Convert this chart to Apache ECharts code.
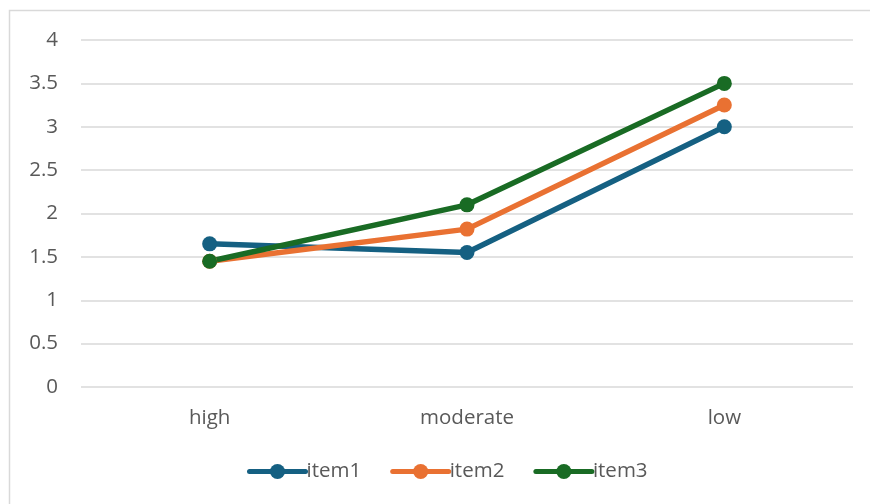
<!DOCTYPE html>
<html><head><meta charset="utf-8">
<script src="https://cdn.jsdelivr.net/npm/echarts@6/dist/echarts.min.js"></script>
<style>html,body{margin:0;padding:0;background:#fff}#c{width:870px;height:504px}</style>
</head><body><div id="c"></div>
<script>
const categories = ['high', 'moderate', 'low'];
const item1 = [1.65, 1.55, 3.0];
const item2 = [1.45, 1.82, 3.25];
const item3 = [1.45, 2.1, 3.5];
const seriesNames = ['item1', 'item2', 'item3'];
const colors = ['#156082', '#E97132', '#196B24'];

const chart = echarts.init(document.getElementById('c'), null, {renderer: 'canvas'});
const font = '"Open Sans", sans-serif';
const mk = (name, data, color) => ({
  name, type: 'line', data, color,
  symbol: 'circle', symbolSize: 15,
  lineStyle: {width: 5.5, color, cap: 'round'},
  itemStyle: {color},
  emphasis: {disabled: true}, animation: false
});
chart.setOption({
  animation: false,
  graphic: [{type: 'rect', shape: {x: 9.5, y: 10.5, width: 880, height: 520}, style: {fill: 'none', stroke: '#d9d9d9', lineWidth: 1.5}, silent: true}],
  grid: {left: 81, right: 17, top: 40, bottom: 117},
  xAxis: {
    type: 'category', data: categories, boundaryGap: true,
    axisLine: {show: false}, axisTick: {show: false},
    axisLabel: {color: '#595959', fontSize: 20.5, fontFamily: font, margin: 21}
  },
  yAxis: {
    type: 'value', min: 0, max: 4, interval: 0.5,
    axisLine: {show: false}, axisTick: {show: false},
    splitLine: {lineStyle: {color: '#d9d9d9', width: 1.5}},
    axisLabel: {color: '#595959', fontSize: 20.5, fontFamily: font, margin: 23}
  },
  legend: {
    bottom: 17, left: 242, itemWidth: 56, itemHeight: 19, itemGap: 29,
    lineStyle: {width: 5, cap: 'round'},
    textStyle: {color: '#595959', fontSize: 20.5, fontFamily: font, padding: [0,0,0,-4]},
    data: seriesNames
  },
  series: [mk(seriesNames[0], item1, colors[0]), mk(seriesNames[1], item2, colors[1]), mk(seriesNames[2], item3, colors[2])]
});
</script></body></html>
